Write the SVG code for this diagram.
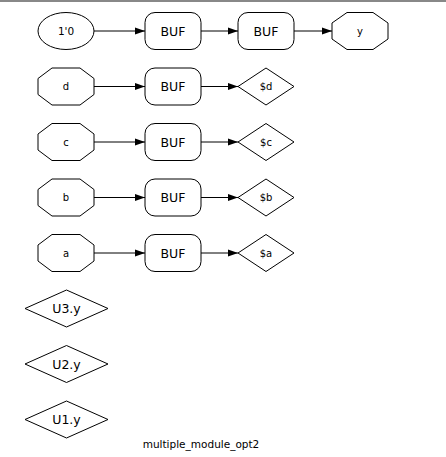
<svg xmlns="http://www.w3.org/2000/svg" width="446" height="457" viewBox="0 0 446 457">
<defs>
<marker id="arr" markerUnits="userSpaceOnUse" markerWidth="11" markerHeight="8" refX="10" refY="4" orient="auto">
<path d="M0,0.5 L10,4 L0,7.5 Z" fill="#000"/>
</marker>
<style>
.s{fill:#fff;stroke:#000;stroke-width:1}
.t{font-family:"DejaVu Sans",sans-serif;font-size:10px;text-anchor:middle;fill:#000}
.b{font-family:"DejaVu Sans",sans-serif;font-size:12.5px;text-anchor:middle;fill:#000}
.e{fill:none;stroke:#000;stroke-width:1;marker-end:url(#arr)}
</style>
</defs>
<rect x="0" y="0" width="446" height="457" fill="#fff"/>
<line x1="0" y1="1" x2="446" y2="1" stroke="#888" stroke-width="2"/>
<g id="edges">
<line class="e" x1="94" y1="31" x2="145" y2="31"/>
<line class="e" x1="201" y1="31" x2="238" y2="31"/>
<line class="e" x1="294" y1="31" x2="332" y2="31"/>
<line class="e" x1="94" y1="86.5" x2="145" y2="86.5"/>
<line class="e" x1="201" y1="86.5" x2="238" y2="86.5"/>
<line class="e" x1="94" y1="142" x2="145" y2="142"/>
<line class="e" x1="201" y1="142" x2="238" y2="142"/>
<line class="e" x1="94" y1="197.5" x2="145" y2="197.5"/>
<line class="e" x1="201" y1="197.5" x2="238" y2="197.5"/>
<line class="e" x1="94" y1="253" x2="145" y2="253"/>
<line class="e" x1="201" y1="253" x2="238" y2="253"/>
</g>
<g id="n_const">
<ellipse class="s" cx="66" cy="31" rx="28" ry="18.5"/>
<text class="t" x="66" y="35" style="font-size:10.5px">1'0</text>
</g>
<g id="n_buf0a">
<rect class="s" x="145" y="12.5" width="56" height="37" rx="10"/>
<text class="b" x="173" y="35.5">BUF</text>
</g>
<g id="n_buf0b">
<rect class="s" x="238" y="12.5" width="56" height="37" rx="10"/>
<text class="b" x="266" y="35.5">BUF</text>
</g>
<g id="n_y">
<polygon class="s" points="347,12.5 373,12.5 388,23 388,39 373,49.5 347,49.5 332,39 332,23"/>
<text class="t" x="360" y="34.5">y</text>
</g>
<g id="n_d">
<polygon class="s" points="52,68 80,68 94,78.5 94,94.5 80,105 52,105 38,94.5 38,78.5"/>
<text class="t" x="66" y="90">d</text>
</g>
<g id="n_bufd">
<rect class="s" x="145" y="68" width="56" height="37" rx="10"/>
<text class="b" x="173" y="91">BUF</text>
</g>
<g id="n_sd">
<polygon class="s" points="266,68 294,86.5 266,105 238,86.5"/>
<text class="t" x="266" y="90">$d</text>
</g>
<g id="n_c">
<polygon class="s" points="52,123.5 80,123.5 94,134 94,150 80,160.5 52,160.5 38,150 38,134"/>
<text class="t" x="66" y="145.5">c</text>
</g>
<g id="n_bufc">
<rect class="s" x="145" y="123.5" width="56" height="37" rx="10"/>
<text class="b" x="173" y="146.5">BUF</text>
</g>
<g id="n_sc">
<polygon class="s" points="266,123.5 294,142 266,160.5 238,142"/>
<text class="t" x="266" y="145.5">$c</text>
</g>
<g id="n_b">
<polygon class="s" points="52,179 80,179 94,189.5 94,205.5 80,216 52,216 38,205.5 38,189.5"/>
<text class="t" x="66" y="201">b</text>
</g>
<g id="n_bufb">
<rect class="s" x="145" y="179" width="56" height="37" rx="10"/>
<text class="b" x="173" y="202">BUF</text>
</g>
<g id="n_sb">
<polygon class="s" points="266,179 294,197.5 266,216 238,197.5"/>
<text class="t" x="266" y="201">$b</text>
</g>
<g id="n_a">
<polygon class="s" points="52,234.5 80,234.5 94,245 94,261 80,271.5 52,271.5 38,261 38,245"/>
<text class="t" x="66" y="256.5">a</text>
</g>
<g id="n_bufa">
<rect class="s" x="145" y="234.5" width="56" height="37" rx="10"/>
<text class="b" x="173" y="257.5">BUF</text>
</g>
<g id="n_sa">
<polygon class="s" points="266,234.5 294,253 266,271.5 238,253"/>
<text class="t" x="266" y="256.5">$a</text>
</g>
<g id="n_u3">
<polygon class="s" points="66.5,290 108,308.5 66.5,327 25,308.5"/>
<text class="b" x="66.5" y="313">U3.y</text>
</g>
<g id="n_u2">
<polygon class="s" points="66.5,345.5 108,364 66.5,382.5 25,364"/>
<text class="b" x="66.5" y="368.5">U2.y</text>
</g>
<g id="n_u1">
<polygon class="s" points="66.5,401 108,419.5 66.5,438 25,419.5"/>
<text class="b" x="66.5" y="424">U1.y</text>
</g>
<text class="t" x="201" y="448" style="font-size:10.5px">multiple_module_opt2</text>
</svg>
